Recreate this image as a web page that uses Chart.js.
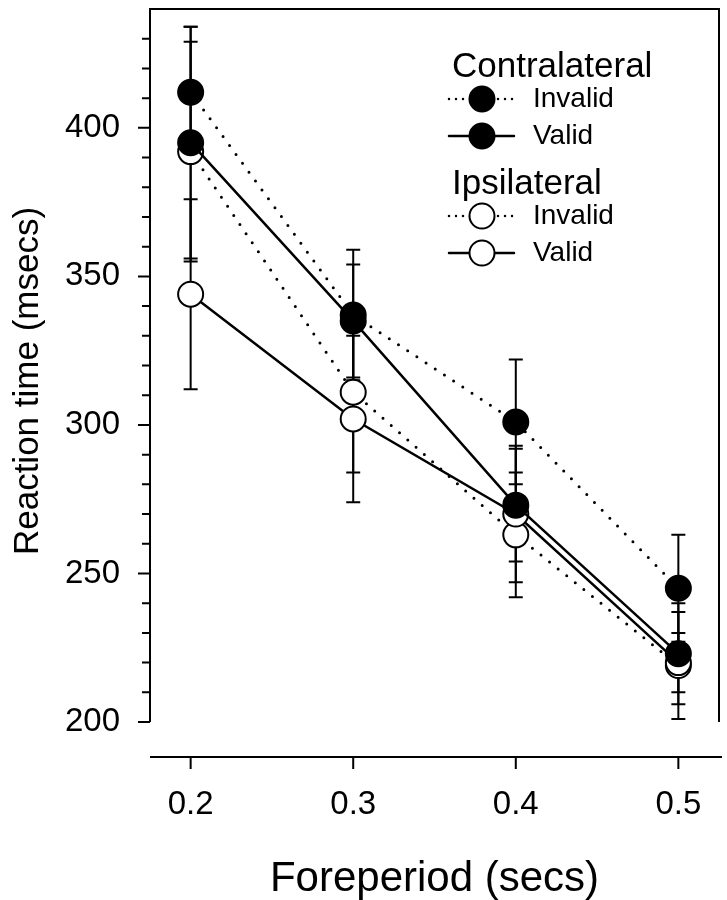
<!DOCTYPE html>
<html lang="en">
<head>
<meta charset="utf-8">
<style>
    html, body { margin: 0; padding: 0; background: #fff; }
    #wrap { width: 727px; height: 900px; position: relative; }
</style>
</head>
<body>
<div id="wrap"><canvas id="myChart"></canvas></div>

<script src="https://cdn.jsdelivr.net/npm/chart.js"></script>
<script>
    // foreperiod in secs, reaction time in msecs
    var foreperiods = [0.2, 0.3, 0.4, 0.5];

    var contraInvalid    = [412, 337, 301, 245];
    var contraInvalidErr = [22, 22, 21, 18];
    var contraValid      = [395, 335, 273, 223];
    var contraValidErr   = [39, 19, 19, 17];
    var ipsiInvalid      = [392, 311, 263, 219];
    var ipsiInvalidErr   = [37, 27, 21, 18];
    var ipsiValid        = [344, 302, 270, 220];
    var ipsiValidErr     = [32, 28, 23, 10];

    var xTicks = [0.2, 0.3, 0.4, 0.5];
    var yTicks = [200, 250, 300, 350, 400];
    var yMinorTicks = [200, 210, 220, 230, 240, 250, 260, 270, 280, 290, 300, 310, 320,
                       330, 340, 350, 360, 370, 380, 390, 400, 410, 420, 430];

    var fontFamily = '"Liberation Sans", Arial, Helvetica, sans-serif';
    Chart.defaults.font.family = fontFamily;
    Chart.defaults.color = '#000';

    function points(values) {
        return values.map(function (v, i) { return {x: foreperiods[i], y: v}; });
    }

    function series(label, values, err, filled, dotted) {
        return {
            label: label,
            data: points(values),
            err: err,
            borderColor: '#000',
            borderWidth: dotted ? 3 : 2.5,
            borderDash: dotted ? [0, 11] : [],
            borderCapStyle: 'round',
            pointRadius: 12.5,
            pointHoverRadius: 12.5,
            pointBorderWidth: 2,
            pointBorderColor: '#000',
            pointBackgroundColor: filled ? '#000' : '#fff',
            tension: 0,
            clip: false
        };
    }

    // no extra room for edge labels, the chart area is set by layout padding
    function noPadding(scale) {
        scale.paddingTop = 0;
        scale.paddingBottom = 0;
        scale.paddingLeft = 0;
        scale.paddingRight = 0;
    }

    // error bars under the markers
    var errorBars = {
        id: 'errorBars',
        beforeDatasetsDraw: function (chart) {
            var ctx = chart.ctx;
            var xs = chart.scales.x, ys = chart.scales.y;
            ctx.save();
            ctx.strokeStyle = '#000';
            ctx.lineWidth = 2;
            chart.data.datasets.forEach(function (ds) {
                ds.data.forEach(function (p, i) {
                    var px = xs.getPixelForValue(p.x);
                    var top = ys.getPixelForValue(p.y + ds.err[i]);
                    var bot = ys.getPixelForValue(p.y - ds.err[i]);
                    ctx.beginPath();
                    ctx.moveTo(px, top); ctx.lineTo(px, bot);
                    ctx.moveTo(px - 7, top); ctx.lineTo(px + 7, top);
                    ctx.moveTo(px - 7, bot); ctx.lineTo(px + 7, bot);
                    ctx.stroke();
                });
            });
            ctx.restore();
        }
    };

    // axis lines, frame, tick marks and the y title
    var frame = {
        id: 'frame',
        afterDraw: function (chart) {
            var ctx = chart.ctx, a = chart.chartArea;
            var xs = chart.scales.x, ys = chart.scales.y;
            var xAxisY = a.bottom + 35;
            ctx.save();
            ctx.strokeStyle = '#000';
            ctx.lineWidth = 2;
            ctx.beginPath();
            ctx.moveTo(a.left, a.bottom); ctx.lineTo(a.left, a.top);
            ctx.lineTo(a.right, a.top); ctx.lineTo(a.right, a.bottom);
            ctx.moveTo(a.left, xAxisY); ctx.lineTo(a.right + 3, xAxisY);
            yMinorTicks.forEach(function (v) {
                var py = ys.getPixelForValue(v);
                var len = yTicks.indexOf(v) >= 0 ? 12 : 8;
                ctx.moveTo(a.left - len, py); ctx.lineTo(a.left, py);
            });
            xTicks.forEach(function (v) {
                var px = xs.getPixelForValue(v);
                ctx.moveTo(px, xAxisY); ctx.lineTo(px, xAxisY + 12);
            });
            ctx.stroke();

            ctx.translate(28, 381);
            ctx.rotate(-Math.PI / 2);
            ctx.fillStyle = '#000';
            ctx.font = '35px ' + fontFamily;
            ctx.textAlign = 'center';
            ctx.textBaseline = 'middle';
            ctx.fillText('Reaction time (msecs)', 0, 0);
            ctx.restore();
        }
    };

    // grouped legend: header, then Invalid (dotted) and Valid (solid)
    var groupLegend = {
        id: 'groupLegend',
        afterDraw: function (chart) {
            var ctx = chart.ctx;
            var groups = [
                {title: 'Contralateral', y: 67, filled: true},
                {title: 'Ipsilateral', y: 184, filled: false}
            ];
            ctx.save();
            ctx.fillStyle = '#000';
            ctx.strokeStyle = '#000';
            ctx.textBaseline = 'middle';
            groups.forEach(function (g) {
                ctx.font = '35px ' + fontFamily;
                ctx.fillText(g.title, 452, g.y);
                [['Invalid', true, 32], ['Valid', false, 69]].forEach(function (row) {
                    var y = g.y + row[2];
                    ctx.lineWidth = 2.5;
                    ctx.lineCap = 'round';
                    ctx.setLineDash(row[1] ? [0, 7] : []);
                    ctx.beginPath();
                    ctx.moveTo(449, y); ctx.lineTo(514, y);
                    ctx.stroke();
                    ctx.setLineDash([]);
                    ctx.beginPath();
                    ctx.arc(482, y, 12.5, 0, Math.PI * 2);
                    ctx.fillStyle = g.filled ? '#000' : '#fff';
                    ctx.fill();
                    ctx.lineWidth = 2;
                    ctx.stroke();
                    ctx.fillStyle = '#000';
                    ctx.font = '28px ' + fontFamily;
                    ctx.fillText(row[0], 533, y);
                });
            });
            ctx.restore();
        }
    };

    var config = {
        type: 'line',
        data: {
            datasets: [
                series('Contralateral Valid', contraValid, contraValidErr, true, false),
                series('Contralateral Invalid', contraInvalid, contraInvalidErr, true, true),
                series('Ipsilateral Valid', ipsiValid, ipsiValidErr, false, false),
                series('Ipsilateral Invalid', ipsiInvalid, ipsiInvalidErr, false, true)
            ]
        },
        options: {
            responsive: true,
            maintainAspectRatio: false,
            animation: false,
            events: [],
            layout: {
                autoPadding: false,
                padding: { top: 9, right: 8, left: 0, bottom: 0 }
            },
            plugins: {
                legend: { display: false },
                tooltip: { enabled: false }
            },
            scales: {
                x: {
                    type: 'linear',
                    min: 0.175,
                    max: 0.525,
                    afterBuildTicks: function (scale) {
                        scale.ticks = xTicks.map(function (v) { return {value: v}; });
                    },
                    afterFit: function (scale) { scale.height = 178; noPadding(scale); },
                    grid: { display: false, drawTicks: false },
                    border: { display: false },
                    ticks: {
                        font: { size: 33 },
                        padding: 63,
                        maxRotation: 0,
                        callback: function (v) { return v.toFixed(1); }
                    },
                    title: {
                        display: true,
                        text: 'Foreperiod (secs)',
                        font: { size: 42, lineHeight: 1 },
                        padding: 0
                    }
                },
                y: {
                    min: 200,
                    max: 440,
                    afterBuildTicks: function (scale) {
                        scale.ticks = yTicks.map(function (v) { return {value: v}; });
                    },
                    afterFit: function (scale) { scale.width = 150; noPadding(scale); },
                    grid: { display: false, drawTicks: false },
                    border: { display: false },
                    ticks: { font: { size: 33 }, padding: 30 }
                }
            }
        },
        plugins: [errorBars, frame, groupLegend]
    };

    var myChart = new Chart(document.getElementById('myChart'), config);
</script>
</body>
</html>
